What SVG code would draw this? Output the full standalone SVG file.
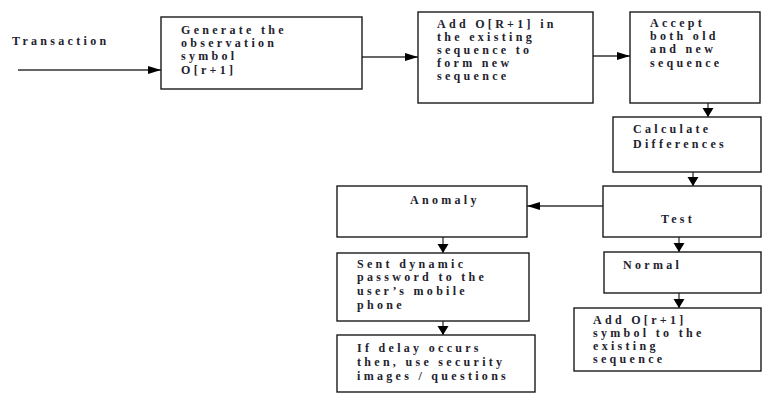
<svg xmlns="http://www.w3.org/2000/svg" width="775" height="408" viewBox="0 0 775 408">
<style>
.box{fill:#fff;stroke:#1a1a1a;stroke-width:1.4}
.t{font-family:"Liberation Serif","Times New Roman",serif;font-size:12px;font-weight:bold;letter-spacing:3.3px;fill:#22222e}
.c{stroke:#333;stroke-width:1.3;fill:none}
</style>
<defs>
<marker id="ah" markerUnits="userSpaceOnUse" markerWidth="14" markerHeight="10" refX="13" refY="4" orient="auto">
<path d="M0,0 L13,4 L0,8 z" fill="#000"/>
</marker>
<marker id="ahs" markerUnits="userSpaceOnUse" markerWidth="12" markerHeight="12" refX="9" refY="5.5" orient="auto">
<path d="M0,0 L9,5.5 L0,11 z" fill="#000"/>
</marker>
</defs>
<rect width="775" height="408" fill="#fff"/>
<text class="t" x="12" y="45">Transaction</text>
<g id="connectors">
<line class="c" x1="18" y1="70" x2="161" y2="70" marker-end="url(#ah)"/>
<line class="c" x1="362" y1="57" x2="418" y2="57" marker-end="url(#ah)"/>
<line class="c" x1="593" y1="56" x2="630" y2="56" marker-end="url(#ah)"/>
<line class="c" x1="708" y1="103" x2="708" y2="117" marker-end="url(#ahs)"/>
<line class="c" x1="693" y1="172" x2="693" y2="186" marker-end="url(#ahs)"/>
<line class="c" x1="603" y1="206" x2="527" y2="206" marker-end="url(#ah)"/>
<line class="c" x1="679" y1="237" x2="679" y2="252" marker-end="url(#ahs)"/>
<line class="c" x1="679" y1="293" x2="679" y2="308" marker-end="url(#ahs)"/>
<line class="c" x1="443" y1="237" x2="443" y2="253" marker-end="url(#ahs)"/>
<line class="c" x1="443" y1="321" x2="443" y2="335" marker-end="url(#ahs)"/>
</g>
<g id="n1"><rect class="box" x="161" y="17" width="201" height="72"/>
<text class="t"><tspan x="181" y="34">Generate the</tspan><tspan x="181" y="47">observation</tspan><tspan x="181" y="60">symbol</tspan><tspan x="181" y="74">O[r+1]</tspan></text></g>
<g id="n2"><rect class="box" x="418" y="12" width="175" height="91"/>
<text class="t"><tspan x="437" y="28">Add O[R+1] in</tspan><tspan x="437" y="41">the existing</tspan><tspan x="437" y="54">sequence to</tspan><tspan x="437" y="67">form new</tspan><tspan x="437" y="80">sequence</tspan></text></g>
<g id="n3"><rect class="box" x="630" y="12" width="130" height="91"/>
<text class="t"><tspan x="650" y="27">Accept</tspan><tspan x="650" y="40">both old</tspan><tspan x="650" y="53">and new</tspan><tspan x="650" y="67">sequence</tspan></text></g>
<g id="n4"><rect class="box" x="613" y="117" width="148" height="55"/>
<text class="t"><tspan x="633" y="133">Calculate</tspan><tspan x="633" y="148">Differences</tspan></text></g>
<g id="n5"><rect class="box" x="603" y="186" width="158" height="51"/>
<text class="t" x="661" y="223">Test</text></g>
<g id="n6"><rect class="box" x="604" y="252" width="157" height="41"/>
<text class="t" x="623" y="269">Normal</text></g>
<g id="n7"><rect class="box" x="574" y="308" width="187" height="63"/>
<text class="t"><tspan x="593" y="324">Add O[r+1]</tspan><tspan x="593" y="337">symbol to the</tspan><tspan x="593" y="350">existing</tspan><tspan x="593" y="363">sequence</tspan></text></g>
<g id="n8"><rect class="box" x="337" y="186" width="190" height="51"/>
<text class="t" x="410" y="204">Anomaly</text></g>
<g id="n9"><rect class="box" x="337" y="253" width="192" height="68"/>
<text class="t"><tspan x="357" y="268">Sent dynamic</tspan><tspan x="357" y="281">password to the</tspan><tspan x="357" y="295">user’s mobile</tspan><tspan x="357" y="309">phone</tspan></text></g>
<g id="n10"><rect class="box" x="337" y="335" width="198" height="57"/>
<text class="t"><tspan x="357" y="352">If delay occurs</tspan><tspan x="357" y="366">then, use security</tspan><tspan x="357" y="380">images / questions</tspan></text></g>
</svg>
